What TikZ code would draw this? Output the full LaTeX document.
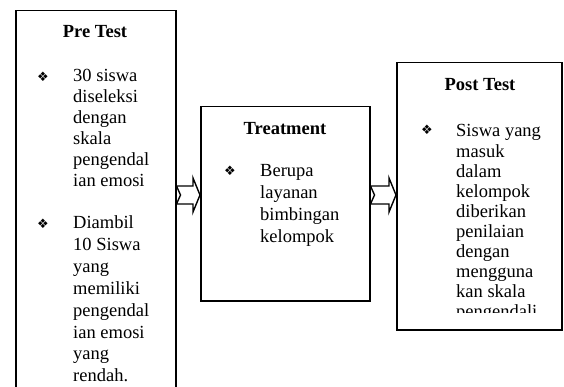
\documentclass[tikz,border=0pt]{standalone}
\usepackage{fontspec}
\setmainfont{Liberation Serif}
\newfontfamily\symfont{DejaVu Sans}
\usetikzlibrary{calc,positioning}

\tikzset{
  box/.style={draw, line width=1.5pt, inner sep=0pt, anchor=north west},
  ttl/.style={anchor=base, inner sep=0pt, font=\fontsize{18.5}{20}\selectfont\bfseries},
  txt/.style={anchor=base west, inner sep=0pt, font=\fontsize{18.5}{20}\selectfont},
  bul/.style={inner sep=0pt, font=\symfont\fontsize{13}{13}\selectfont},
  blockarrow/.style={draw, fill=white, line width=1.4pt, line join=miter}
}
% notched block arrow from #1 (tail) to #2 (tip)
\newcommand{\notchedarrow}[2]{%
  \draw[blockarrow] ($(#1)+(0,-9)$) -- ($(#2)+(-7,-9)$) -- ($(#2)+(-7,-17)$)
    -- (#2) -- ($(#2)+(-7,17)$) -- ($(#2)+(-7,9)$) -- ($(#1)+(0,9)$)
    -- ($(#1)+(4,0)$) -- cycle;}

\begin{document}
\begin{tikzpicture}[x=1pt, y=-1pt]
            \useasboundingbox (0,0) rectangle (564,387);

            % Draw the three boxes
            \node[box, minimum width=160pt, minimum height=400pt] (pre) at (15,10) {};
            \node[box, minimum width=169pt, minimum height=194pt] (treat) at (200,106) {};
            \node[box, minimum width=165pt, minimum height=267pt] (post) at (396,62) {};

            % Pre Test
            \node[ttl] (preTitle) at (95,38) {Pre Test};
            \node[bul] (preBulA) at (43,77) {❖};
            \foreach \t [count=\i from 0] in {30 siswa, diseleksi, dengan, skala, pengendal, ian emosi}
                \node[txt] (preA\i) at (73,82+21*\i) {\t};
            \node[bul] (preBulB) at (43,224) {❖};
            \foreach \t [count=\i from 0] in {Diambil, 10 Siswa, yang, memiliki, pengendal, ian emosi, yang, rendah.}
                \node[txt] (preB\i) at (73,229+21.8*\i) {\t};

            % Treatment
            \node[ttl] (treatTitle) at (285,135) {Treatment};
            \node[bul] (treatBul) at (230,171) {❖};
            \foreach \t [count=\i from 0] in {Berupa, layanan, bimbingan, kelompok}
                \node[txt] (treat\i) at (260,177+21.7*\i) {\t};

            % Post Test (last line cut off by the box)
            \node[ttl] (postTitle) at (480,91) {Post Test};
            \node[bul] (postBul) at (427,130) {❖};
            \begin{scope}
                \clip (396,62) rectangle (561,312);
                \foreach \t [count=\i from 0] in {Siswa yang, masuk, dalam, kelompok, diberikan, penilaian, dengan, mengguna, kan skala, pengendali}
                    \node[txt] (post\i) at (456,137+20.1*\i) {\t};
            \end{scope}

            % Draw arrows between the boxes
            \coordinate (ay) at (0,195);
            \coordinate (arrA) at (pre.east |- ay);
            \coordinate (tipA) at (treat.west |- ay);
            \coordinate (arrB) at (treat.east |- ay);
            \coordinate (tipB) at (post.west |- ay);
            \notchedarrow{arrA}{tipA}
            \notchedarrow{arrB}{tipB}
\end{tikzpicture}
\end{document}
